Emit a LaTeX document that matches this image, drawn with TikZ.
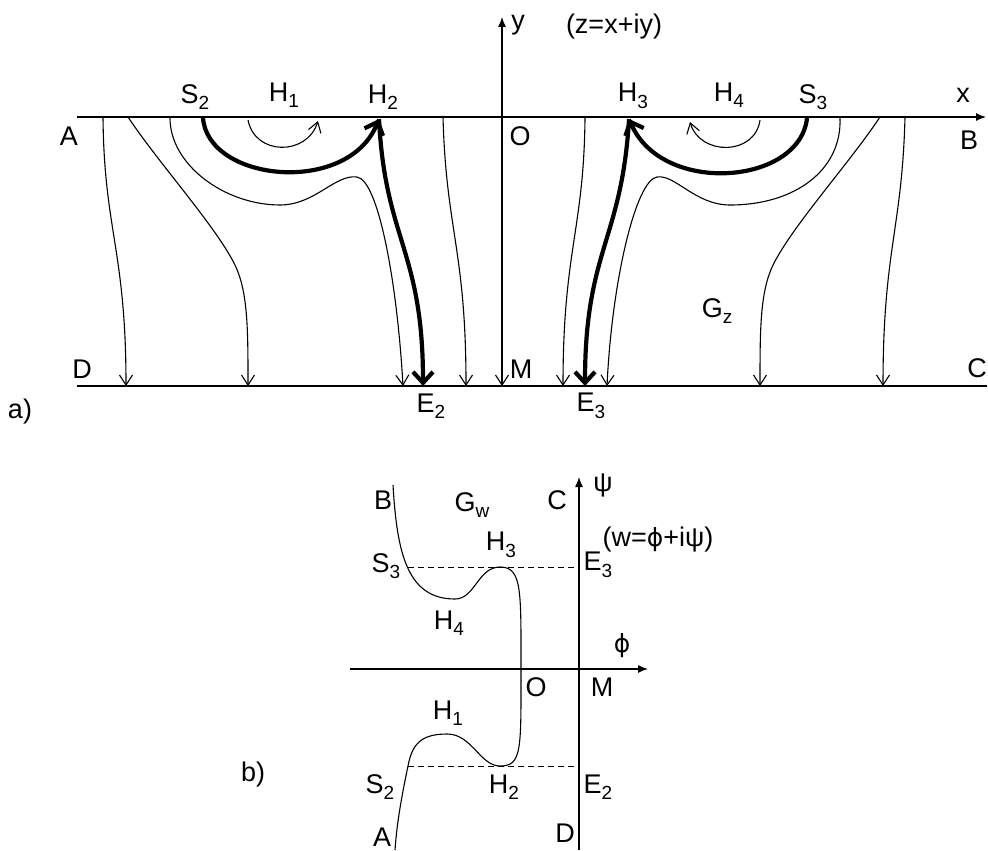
\documentclass[tikz,border=0pt]{standalone}
\usepackage{fontspec}
\setmainfont{Liberation Sans}
\newfontfamily\dvs{DejaVu Sans}
\usetikzlibrary{arrows.meta}
\newcommand\sbs[1]{\raisebox{-0.45ex}{\fontsize{9.5}{10}\selectfont #1}}
\newcommand\phiglyph{{\dvs\fontsize{12.5}{14}\selectfont ϕ}}
\tikzset{
  lbl/.style={inner sep=0pt, font=\fontsize{13.5}{15}\selectfont},
  thin line/.style={line width=0.55pt},
  flow/.style={line width=0.55pt, -{Straight Barb[length=5pt,width=6.5pt,line width=0.55pt]}},
  bold flow/.style={line width=2.1pt, -{Straight Barb[length=5.5pt,width=10pt,line width=2.1pt]}},
  axis/.style={line width=0.6pt, -{Latex[length=5pt,width=4pt]}},
  level/.style={line width=0.5pt, densely dashed},
}
\begin{document}
\begin{tikzpicture}[x=0.5pt,y=-0.5pt]
\useasboundingbox (0,0) rectangle (988,850);
% ---------------- part a ----------------
\coordinate (xs) at (77,117);  \coordinate (xe) at (986,117);
\coordinate (ds) at (77,386);  \coordinate (de) at (987,386);
\coordinate (ytop) at (502,17); \coordinate (ybot) at (502,386);
\draw[axis] (xs) -- (xe);
\draw[thin line] (ds) -- (de);
\draw[line width=0.6pt, {Straight Barb[length=5pt,width=6.5pt,line width=0.55pt]}-{Latex[length=5pt,width=4pt]}] (ybot) -- (ytop);

% key points
\coordinate (pS2) at (203,118); \coordinate (pH2) at (379,119);
\coordinate (pE2) at (423,386);
\coordinate (pS3) at (807,118); \coordinate (pH3) at (629,119);
\coordinate (pE3) at (585,386);

% left streamlines
\coordinate (l1s) at (103,117); \coordinate (l1e) at (126,386);
\draw[flow] (l1s) .. controls (104,230) and (126,250) .. (l1e);
\coordinate (l2s) at (128,117); \coordinate (l2e) at (248,386);
\draw[flow] (l2s) .. controls (160,165) and (215,225) .. (235,265) .. controls (248,292) and (248,330) .. (l2e);
\coordinate (l3s) at (170,118); \coordinate (l3e) at (403,386);
\draw[flow] (l3s) .. controls (170,165) and (225,205) .. (280,205) .. controls (315,205) and (335,174) .. (357,177) .. controls (378,180) and (397,280) .. (l3e);
\coordinate (l4s) at (443,117); \coordinate (l4e) at (466,386);
\draw[flow] (l4s) .. controls (446,230) and (466,250) .. (l4e);
\coordinate (h1s) at (248,120); \coordinate (h1e) at (318,121);
\draw[flow] (h1s) .. controls (255,156) and (307,156) .. (h1e);
\draw[bold flow] (pS2) .. controls (208,182) and (348,196) .. (pH2);
\draw[bold flow] (pH2) .. controls (385,240) and (423,250) .. (pE2);

% right streamlines
\coordinate (r1s) at (585,117); \coordinate (r1e) at (563,386);
\draw[flow] (r1s) .. controls (584,230) and (563,250) .. (r1e);
\coordinate (r3s) at (840,118); \coordinate (r3e) at (607,386);
\draw[flow] (r3s) .. controls (842,170) and (795,205) .. (730,205) .. controls (695,205) and (675,174) .. (657,177) .. controls (636,180) and (612,280) .. (r3e);
\coordinate (r4s) at (880,117); \coordinate (r4e) at (760,386);
\draw[flow] (r4s) .. controls (848,165) and (793,225) .. (773,265) .. controls (760,292) and (760,330) .. (r4e);
\coordinate (r5s) at (905,117); \coordinate (r5e) at (883,386);
\draw[flow] (r5s) .. controls (902,230) and (883,250) .. (r5e);
\coordinate (h4s) at (760,120); \coordinate (h4e) at (690,122);
\draw[flow] (h4s) .. controls (755,156) and (700,156) .. (h4e);
\draw[bold flow] (pS3) .. controls (800,185) and (662,196) .. (pH3);
\draw[bold flow] (pH3) .. controls (622,240) and (585,250) .. (pE3);

% labels part a
\node[lbl] (tA) at (69,136) {A};
\node[lbl] (tD) at (82,369) {D};
\node[lbl] (tS2) at (195,97) {S\sbs{2}};
\node[lbl] (tH1) at (284,95) {H\sbs{1}};
\node[lbl] (tH2) at (383,97) {H\sbs{2}};
\node[lbl] (tO) at (520,136) {O};
\node[lbl] (tM) at (521,369) {M};
\node[lbl] (tE2) at (431,406) {E\sbs{2}};
\node[lbl] (tE3) at (591,406) {E\sbs{3}};
\node[lbl] (tH3) at (633,96) {H\sbs{3}};
\node[lbl] (tH4) at (729,95) {H\sbs{4}};
\node[lbl] (tS3) at (813,97) {S\sbs{3}};
\node[lbl] (tx) at (963,95) {x};
\node[lbl] (tB) at (969,140) {B};
\node[lbl] (tC) at (977,368) {C};
\node[lbl] (tGz) at (717,311) {G\sbs{z}};
\node[lbl] (ty) at (518,25) {y};
\node[lbl] (tz) at (614,27) {(z=x+iy)};
\node[lbl] (ta) at (20,412) {a)};

% ---------------- part b ----------------
\coordinate (psib) at (579,850); \coordinate (psit) at (579,477);
\coordinate (phil) at (350,669); \coordinate (phir) at (648,669);
\draw[axis] (psib) -- (psit);
\draw[axis] (phil) -- (phir);
\coordinate (wB) at (393,485); \coordinate (wA) at (395,850);
\coordinate (wS3) at (408,567); \coordinate (wE3) at (579,567);
\coordinate (wS2) at (408,766); \coordinate (wE2) at (579,766);
\coordinate (wO) at (521,669);
\draw[level] (wS3) -- (wE3);
\draw[level] (wS2) -- (wE2);
\draw[thin line] (wB) .. controls (397,555) and (408,599) .. (455,599)
  .. controls (475,599) and (478,567) .. (500,567)
  .. controls (522,567) and (521,590) .. (wO)
  .. controls (521,750) and (522,766) .. (500,766)
  .. controls (480,766) and (472,734) .. (447,734)
  .. controls (420,734) and (412,745) .. (wS2)
  .. controls (403,790) and (397,820) .. (wA);

\node[lbl] (bB) at (383,500) {B};
\node[lbl] (bG) at (472,505) {G\sbs{w}};
\node[lbl] (bC) at (557,500) {C};
\node[lbl] (bpsi) at (603,485) {ψ};
\node[lbl] (bw) at (658,540) {(w=\phiglyph+iψ)};
\node[lbl] (bH3) at (501,545) {H\sbs{3}};
\node[lbl] (bS3) at (386,566) {S\sbs{3}};
\node[lbl] (bE3) at (598,565) {E\sbs{3}};
\node[lbl] (bH4) at (449,623) {H\sbs{4}};
\node[lbl] (bphi) at (622,646) {\phiglyph};
\node[lbl] (bO) at (536,687) {O};
\node[lbl] (bM) at (602,687) {M};
\node[lbl] (bH1) at (448,713) {H\sbs{1}};
\node[lbl] (bS2) at (380,787) {S\sbs{2}};
\node[lbl] (bH2) at (504,787) {H\sbs{2}};
\node[lbl] (bE2) at (598,787) {E\sbs{2}};
\node[lbl] (bA) at (382,837) {A};
\node[lbl] (bD) at (565,833) {D};
\node[lbl] (tb) at (253,774) {b)};
\end{tikzpicture}
\end{document}
